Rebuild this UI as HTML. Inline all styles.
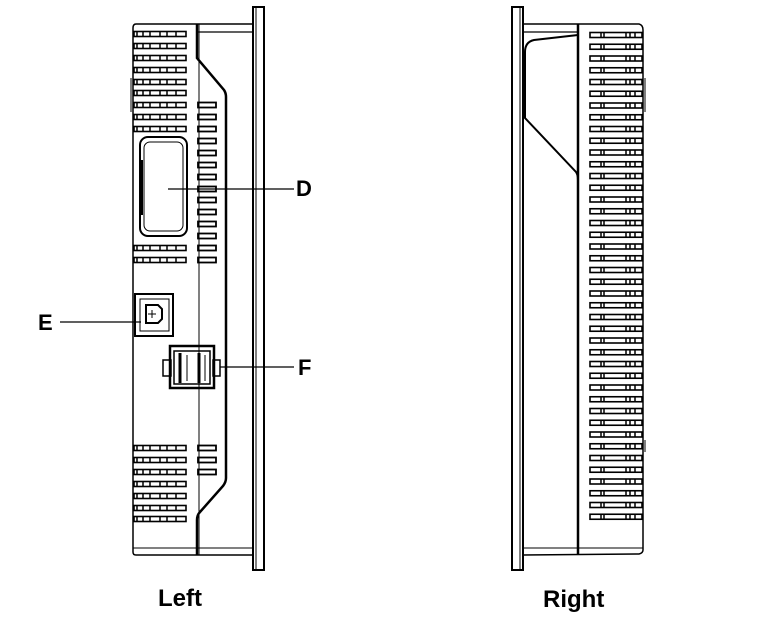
<!DOCTYPE html>
<html><head><meta charset="utf-8"><style>
html,body{margin:0;padding:0;background:#fff;}
svg{display:block}
text{font-family:"Liberation Sans",Arial,sans-serif;font-weight:bold;fill:#000}
</style></head><body>
<svg width="777" height="619" viewBox="0 0 777 619" xmlns="http://www.w3.org/2000/svg" xmlns:xlink="http://www.w3.org/1999/xlink">
<defs>
<g id="L" fill="none" stroke="#000" stroke-width="1.6">
<rect x="134" y="-2.5" width="52" height="5"/>
<path d="M137 -2.5v5M143 -2.5v5M150 -2.5v5M160 -2.5v5M167 -2.5v5M176 -2.5v5" stroke-width="1.5"/>
</g>
<g id="S" fill="none" stroke="#000" stroke-width="1.8">
<rect x="198" y="-2.5" width="18" height="5"/>
</g>
<g id="R" fill="none" stroke="#000" stroke-width="1.6">
<rect x="590" y="-2.5" width="52" height="5"/>
<path d="M601 -2.5v5M604 -2.5v5M626 -2.5v5M630 -2.5v5M635 -2.5v5" stroke-width="1.5"/>
</g>
</defs>
<g fill="none" stroke="#000">
<!-- LEFT VIEW -->
<rect x="253" y="7" width="11" height="563" stroke-width="2"/>
<line x1="256" y1="8" x2="256" y2="569" stroke-width="1"/>
<path d="M253 24 L136 24 Q133 24 133 28 L133 552 Q133 555 136 555 L253 555" stroke-width="1.5"/>
<line x1="197" y1="32" x2="253" y2="32" stroke-width="1.2"/>
<line x1="133" y1="548" x2="253" y2="548" stroke-width="1"/>
<line x1="199" y1="24" x2="199" y2="555" stroke-width="1"/>
<path d="M197 24 L197 58 L224 90 Q226 93 226 97 L226 478 Q226 482 223 486 L200 512 Q197 515 197 520 L197 555" stroke-width="2.5"/>
<line x1="131" y1="78" x2="131" y2="112" stroke-width="1"/>
<rect x="140" y="137" width="47" height="99" rx="8" stroke-width="2"/>
<rect x="144" y="142" width="39" height="89" rx="6" stroke-width="1"/>
<line x1="142" y1="160" x2="142" y2="215" stroke-width="2"/>
<rect x="135" y="294" width="38" height="42" stroke-width="2"/>
<rect x="140" y="299" width="29" height="32" stroke-width="1"/>
<path d="M146 305 h12 l4 4 v10 l-4 4 h-12 z" stroke-width="2"/>
<line x1="152" y1="310" x2="152" y2="318" stroke-width="1"/>
<line x1="148" y1="314" x2="156" y2="314" stroke-width="1"/>
<rect x="170" y="346" width="44" height="42" stroke-width="2.5"/>
<rect x="174" y="351" width="36" height="33" stroke-width="1.5"/>
<rect x="163" y="360" width="8" height="16" stroke-width="1.5"/>
<rect x="213" y="360" width="7" height="16" stroke-width="1.5"/>
<line x1="180" y1="353" x2="180" y2="383" stroke-width="3"/>
<line x1="199" y1="353" x2="199" y2="383" stroke-width="3"/>
<line x1="187" y1="355" x2="187" y2="381" stroke-width="1"/>
<line x1="205" y1="355" x2="205" y2="381" stroke-width="1"/>
<line x1="168" y1="189" x2="294" y2="189" stroke-width="1.3"/>
<line x1="60" y1="322" x2="141" y2="322" stroke-width="1.3"/>
<line x1="220" y1="367" x2="294" y2="367" stroke-width="1.3"/>
<!-- RIGHT VIEW -->
<rect x="512" y="7" width="11" height="563" stroke-width="2"/>
<line x1="520" y1="8" x2="520" y2="569" stroke-width="1"/>
<path d="M523 24 L639 24 Q643 25 643 30 L643 550 Q643 553 639 554 L523 555" stroke-width="1.5"/>
<line x1="523" y1="32" x2="578" y2="32" stroke-width="1.2"/>
<line x1="523" y1="548" x2="643" y2="548" stroke-width="1"/>
<path d="M578 24 L578 555" stroke-width="2.5"/>
<path d="M578 35 L534 40 Q525 42 525 52 L525 118 L576 172 Q578 175 578 180" stroke-width="2"/>
<line x1="645" y1="78" x2="645" y2="112" stroke-width="1"/>
<line x1="645" y1="440" x2="645" y2="452" stroke-width="1"/>
</g>
<!-- left slots -->
<use xlink:href="#L" y="34"/><use xlink:href="#L" y="46"/><use xlink:href="#L" y="58"/><use xlink:href="#L" y="70"/><use xlink:href="#L" y="82"/><use xlink:href="#L" y="93"/><use xlink:href="#L" y="105"/><use xlink:href="#L" y="117"/><use xlink:href="#L" y="129"/>
<use xlink:href="#S" y="105"/><use xlink:href="#S" y="117"/><use xlink:href="#S" y="129"/>
<use xlink:href="#S" y="141"/><use xlink:href="#S" y="153"/><use xlink:href="#S" y="165"/><use xlink:href="#S" y="177"/><use xlink:href="#S" y="189"/><use xlink:href="#S" y="200"/><use xlink:href="#S" y="212"/><use xlink:href="#S" y="224"/><use xlink:href="#S" y="236"/>
<use xlink:href="#L" y="248"/><use xlink:href="#S" y="248"/><use xlink:href="#L" y="260"/><use xlink:href="#S" y="260"/>
<use xlink:href="#L" y="448"/><use xlink:href="#S" y="448"/><use xlink:href="#L" y="460"/><use xlink:href="#S" y="460"/><use xlink:href="#L" y="472"/><use xlink:href="#S" y="472"/>
<use xlink:href="#L" y="484"/><use xlink:href="#L" y="496"/><use xlink:href="#L" y="508"/><use xlink:href="#L" y="519"/>
<!-- right slots -->
<use xlink:href="#R" y="35"/><use xlink:href="#R" y="46.75"/><use xlink:href="#R" y="58.5"/><use xlink:href="#R" y="70.25"/><use xlink:href="#R" y="82"/><use xlink:href="#R" y="93.75"/><use xlink:href="#R" y="105.5"/><use xlink:href="#R" y="117.25"/><use xlink:href="#R" y="129"/><use xlink:href="#R" y="140.75"/><use xlink:href="#R" y="152.5"/><use xlink:href="#R" y="164.25"/><use xlink:href="#R" y="176"/><use xlink:href="#R" y="187.75"/><use xlink:href="#R" y="199.5"/><use xlink:href="#R" y="211.25"/><use xlink:href="#R" y="223"/><use xlink:href="#R" y="234.75"/><use xlink:href="#R" y="246.5"/><use xlink:href="#R" y="258.25"/><use xlink:href="#R" y="270"/><use xlink:href="#R" y="281.75"/><use xlink:href="#R" y="293.5"/><use xlink:href="#R" y="305.25"/><use xlink:href="#R" y="317"/><use xlink:href="#R" y="328.75"/><use xlink:href="#R" y="340.5"/><use xlink:href="#R" y="352.25"/><use xlink:href="#R" y="364"/><use xlink:href="#R" y="375.75"/><use xlink:href="#R" y="387.5"/><use xlink:href="#R" y="399.25"/><use xlink:href="#R" y="411"/><use xlink:href="#R" y="422.75"/><use xlink:href="#R" y="434.5"/><use xlink:href="#R" y="446.25"/><use xlink:href="#R" y="458"/><use xlink:href="#R" y="469.75"/><use xlink:href="#R" y="481.5"/><use xlink:href="#R" y="493.25"/><use xlink:href="#R" y="505"/><use xlink:href="#R" y="516.75"/>
<text x="296" y="196" font-size="22">D</text>
<text x="38" y="330" font-size="22">E</text>
<text x="298" y="375" font-size="22">F</text>
<text x="158" y="606" font-size="24">Left</text>
<text x="543" y="607" font-size="24">Right</text>
</svg>
</body></html>
